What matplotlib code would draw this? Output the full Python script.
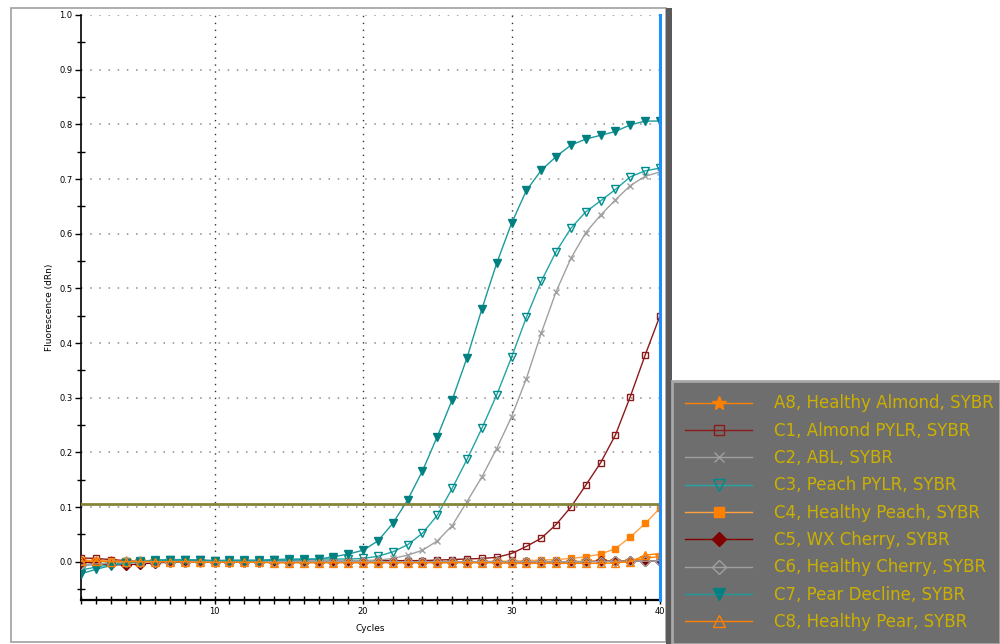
import matplotlib
matplotlib.use("Agg")
import matplotlib.pyplot as plt
from matplotlib.patches import Rectangle
from matplotlib.ticker import MultipleLocator

# amplification data
cycles = list(range(1, 41))

a8_healthy_almond = [0.002, 0.002, 0.001, 0.001, 0.001, 0.001, 0.001, 0.000, 0.000, 0.000,
                     0.000, 0.000, 0.000, 0.000, 0.000, 0.000, 0.000, 0.000, 0.000, 0.000,
                     0.000, 0.000, 0.000, 0.000, 0.000, 0.000, 0.000, 0.000, 0.000, 0.000,
                     0.000, 0.000, 0.000, 0.000, 0.001, 0.001, 0.001, 0.002, 0.006, 0.010]
c1_almond_pylr = [0.007, 0.006, 0.004, 0.002, 0.001, 0.001, 0.002, 0.002, 0.002, 0.001,
                  0.001, 0.001, 0.001, 0.002, 0.002, 0.002, 0.002, 0.002, 0.002, 0.002,
                  0.002, 0.002, 0.002, 0.002, 0.003, 0.004, 0.005, 0.006, 0.008, 0.015,
                  0.028, 0.043, 0.068, 0.100, 0.140, 0.181, 0.232, 0.302, 0.378, 0.450]
c2_abl = [-0.008, -0.005, -0.002, 0.000, 0.001, 0.001, 0.002, 0.002, 0.002, 0.001,
          0.001, 0.001, 0.001, 0.001, 0.002, 0.002, 0.002, 0.002, 0.002, 0.002,
          0.003, 0.006, 0.012, 0.021, 0.038, 0.066, 0.110, 0.155, 0.207, 0.265,
          0.335, 0.418, 0.494, 0.555, 0.602, 0.634, 0.662, 0.688, 0.705, 0.713]
c3_peach_pylr = [-0.015, -0.010, -0.005, -0.001, 0.001, 0.003, 0.004, 0.004, 0.003, 0.002,
                 0.003, 0.003, 0.003, 0.004, 0.005, 0.005, 0.005, 0.005, 0.005, 0.006,
                 0.010, 0.018, 0.031, 0.052, 0.085, 0.134, 0.187, 0.244, 0.305, 0.374,
                 0.447, 0.513, 0.567, 0.610, 0.640, 0.660, 0.681, 0.704, 0.715, 0.720]
c4_healthy_peach = [0.003, 0.002, 0.001, 0.001, 0.001, 0.001, 0.000, 0.000, 0.000, 0.000,
                    0.000, 0.000, 0.000, 0.000, 0.000, 0.000, 0.000, 0.000, 0.000, 0.000,
                    0.000, 0.000, 0.000, 0.000, 0.000, 0.000, 0.000, 0.000, 0.001, 0.001,
                    0.002, 0.003, 0.004, 0.006, 0.009, 0.014, 0.024, 0.045, 0.070, 0.098]
c5_wx_cherry = [0.000, -0.003, -0.005, -0.006, -0.004, -0.002, -0.001, 0.000, 0.001, 0.000,
                0.000, 0.000, 0.000, 0.000, 0.000, 0.000, 0.000, 0.000, 0.000, 0.000,
                0.000, 0.000, 0.000, 0.000, 0.000, 0.000, 0.000, 0.000, 0.000, 0.000,
                0.000, 0.000, 0.000, 0.000, 0.000, 0.001, 0.001, 0.001, 0.001, 0.002]
c6_healthy_cherry = [-0.006, -0.004, -0.002, -0.001, 0.000, 0.000, 0.000, 0.000, 0.000, 0.000,
                     0.000, 0.000, 0.000, 0.000, 0.000, 0.000, 0.000, 0.000, 0.000, 0.000,
                     0.000, 0.000, 0.000, 0.000, 0.000, 0.000, 0.000, 0.000, 0.000, 0.000,
                     0.000, 0.000, 0.000, 0.000, 0.000, 0.000, 0.001, 0.001, 0.001, 0.002]
c7_pear_decline = [-0.022, -0.014, -0.007, -0.003, 0.000, 0.002, 0.003, 0.003, 0.003, 0.002,
                   0.002, 0.002, 0.002, 0.003, 0.003, 0.004, 0.005, 0.009, 0.014, 0.021,
                   0.038, 0.070, 0.113, 0.166, 0.229, 0.296, 0.373, 0.462, 0.546, 0.619,
                   0.679, 0.716, 0.741, 0.762, 0.773, 0.780, 0.787, 0.799, 0.806, 0.806]
c8_healthy_pear = [0.001, 0.001, 0.000, 0.000, 0.000, 0.000, 0.000, 0.000, -0.001, -0.001,
                   -0.001, -0.001, -0.001, -0.002, -0.002, -0.002, -0.002, -0.002, -0.002, -0.002,
                   -0.002, -0.002, -0.002, -0.002, -0.002, -0.002, -0.002, -0.002, -0.002, -0.003,
                   -0.003, -0.003, -0.003, -0.003, -0.003, -0.003, -0.002, 0.000, 0.012, 0.015]

threshold = 0.105

series = [
    ("A8, Healthy Almond, SYBR", a8_healthy_almond, "#ff8000", "#ff8000", "*", True),
    ("C1, Almond PYLR, SYBR", c1_almond_pylr, "#8b1a1a", "#8b1a1a", "s", False),
    ("C2, ABL, SYBR", c2_abl, "#a0a0a0", "#a0a0a0", "x", True),
    ("C3, Peach PYLR, SYBR", c3_peach_pylr, "#22a5a5", "#008b8b", "v", False),
    ("C4, Healthy Peach, SYBR", c4_healthy_peach, "#ffa040", "#ff8000", "s", True),
    ("C5, WX Cherry, SYBR", c5_wx_cherry, "#800000", "#800000", "D", True),
    ("C6, Healthy Cherry, SYBR", c6_healthy_cherry, "#a0a0a0", "#a0a0a0", "D", False),
    ("C7, Pear Decline, SYBR", c7_pear_decline, "#1a9a9a", "#008080", "v", True),
    ("C8, Healthy Pear, SYBR", c8_healthy_pear, "#ff8000", "#ff8000", "^", False),
]

W, H = 1000, 644
fig = plt.figure(figsize=(W / 100, H / 100), dpi=100)
fig.patch.set_facecolor("white")


def fx(px):
    return px / W


def fy(py):
    return 1 - py / H


# frame around the plot panel and the dark splitter strip
fig.patches.append(Rectangle((fx(11), fy(642)), fx(655), 634 / H, transform=fig.transFigure,
                             facecolor="white", edgecolor="#a0a0a0", lw=1.2, zorder=-5))
fig.patches.append(Rectangle((fx(666), fy(644)), fx(6), 636 / H, transform=fig.transFigure,
                             facecolor="#5a5a5a", edgecolor="none", zorder=-5))

ax = fig.add_axes([fx(81), fy(600), fx(660 - 81), (600 - 15) / H])
ax.set_facecolor("none")

for label, vals, lc, mc, mk, filled in series:
    ms = 6 if mk in ("v", "^") else 5
    if mk == "*":
        ms = 7
    ax.plot(cycles, vals, color=lc, lw=1.0, marker=mk, markersize=ms,
            markeredgecolor=mc, markerfacecolor=mc if filled else "none",
            markeredgewidth=1.0, label=label, zorder=3)

ax.axhline(threshold, color="#85853a", lw=2, zorder=4)
ax.axvline(40, color="#1e8fff", lw=2.2, zorder=5, clip_on=False)

ax.set_xlim(1, 40)
ax.set_ylim(-0.07, 1.0)

# grid: gray dotted horizontal, dark dotted vertical
for yv in [0.1, 0.2, 0.3, 0.4, 0.5, 0.6, 0.7, 0.8, 0.9, 1.0]:
    ax.axhline(yv, color="#8c8c8c", lw=1.1, ls=(0, (1, 5)), zorder=1)
for xv in [10, 20, 30]:
    ax.axvline(xv, color="#333333", lw=1.0, ls=(0, (1, 4)), zorder=1)

ax.xaxis.set_major_locator(MultipleLocator(10))
ax.xaxis.set_minor_locator(MultipleLocator(1))
ax.yaxis.set_major_locator(MultipleLocator(0.1))
ax.yaxis.set_minor_locator(MultipleLocator(0.05))
ax.tick_params(axis="x", which="both", direction="inout", length=6, width=1, labelsize=6, pad=2)
ax.tick_params(axis="y", which="major", direction="out", length=4, width=1, labelsize=6, pad=2)
ax.tick_params(axis="y", which="minor", direction="inout", length=6, width=1)
ax.xaxis.set_major_formatter(plt.FuncFormatter(lambda v, p: "%d" % v if v >= 10 else ""))
ax.yaxis.set_major_formatter(plt.FuncFormatter(lambda v, p: "%.1f" % v if v > -0.01 else ""))

for side in ("top", "right"):
    ax.spines[side].set_visible(False)
ax.spines["left"].set_linewidth(1.2)
ax.spines["bottom"].set_linewidth(1.6)

ax.set_xlabel("Cycles", fontsize=6.5, labelpad=6)
ax.set_ylabel("Fluorescence (dRn)", fontsize=6.5, labelpad=4)

leg = fig.legend(loc="upper left", bbox_to_anchor=(fx(672), 0, fx(328), (644 - 381) / H),
                 mode="expand", borderaxespad=0, fontsize=12, labelcolor="#ccb000",
                 facecolor="#6e6e6e", edgecolor="#a8a8a8", framealpha=1, fancybox=False,
                 handlelength=4.0, handletextpad=1.3, labelspacing=0.56, markerscale=1.5,
                 borderpad=0.8)
leg.get_frame().set_linewidth(2)

fig.savefig("out.png", dpi=100)
